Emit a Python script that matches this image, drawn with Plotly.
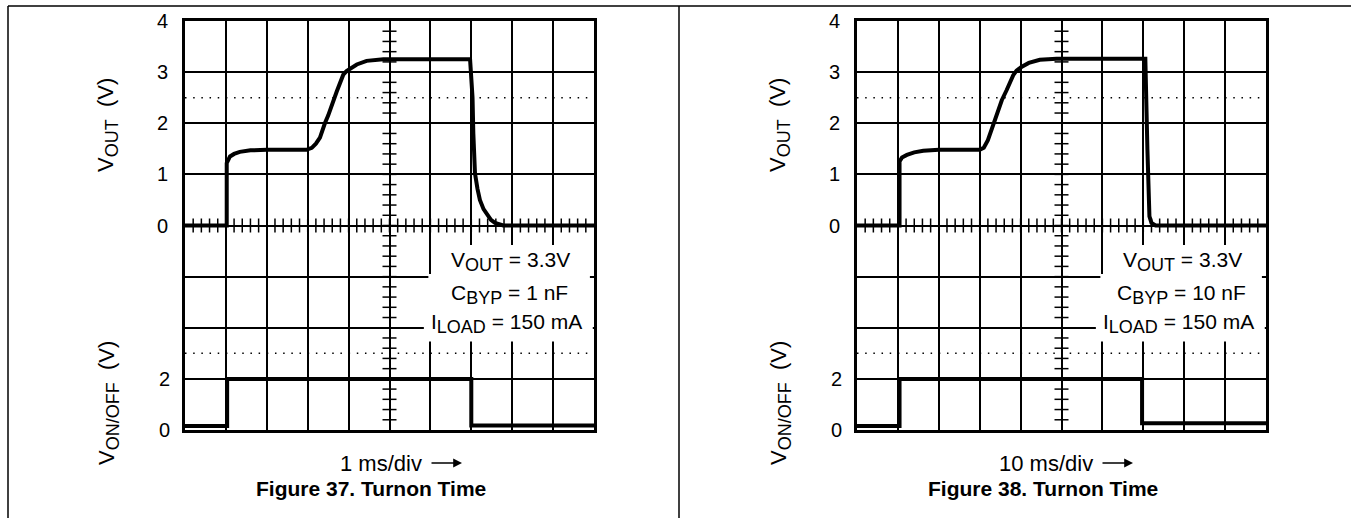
import plotly.graph_objects as go

W, H = 1351, 518
FONT = "Liberation Sans"

# ---------------- data ----------------
# Figure 37 (1 ms/div): time in ms
t_out_37 = [0, 1.02, 1.02, 1.1, 1.2, 1.34, 1.6, 2.0, 2.97, 3.1, 3.2, 3.3, 3.42, 3.5, 3.71,
            3.87, 3.95, 4.05, 4.2, 4.44, 4.85, 6.97, 7.03, 7.05, 7.09, 7.15, 7.21, 7.3,
            7.38, 7.48, 7.58, 7.78, 10]
v_out_37 = [0, 0, 1.22, 1.35, 1.40, 1.44, 1.47, 1.48, 1.48, 1.52, 1.60, 1.72, 2.0, 2.15, 2.62,
            2.95, 3.02, 3.08, 3.15, 3.22, 3.25, 3.25, 2.5, 1.8, 1.02, 0.72, 0.5, 0.32,
            0.21, 0.11, 0.05, 0.0, 0]
t_on_37 = [0, 1.03, 1.03, 7.0, 7.0, 10]
v_on_37 = [0.16, 0.16, 2.0, 2.0, 0.18, 0.18]

# Figure 38 (10 ms/div): time in ms
t_out_38 = [0, 10.4, 10.4, 11.0, 12.2, 14.0, 16.2, 20, 30, 31, 32, 33, 34.1, 35.4, 36.6,
            37.5, 38.2, 39, 40.2, 42, 44.7, 48.8, 70.5, 71.0, 71.5, 72.0, 73, 100]
v_out_38 = [0, 0, 1.25, 1.33, 1.38, 1.43, 1.46, 1.48, 1.48, 1.52, 1.67, 1.9, 2.2, 2.45, 2.65,
            2.83, 2.94, 3.03, 3.1, 3.18, 3.24, 3.26, 3.26, 1.5, 0.18, 0.05, 0.0, 0]
t_on_38 = [0, 10.4, 10.4, 69.7, 69.7, 100]
v_on_38 = [0.16, 0.16, 2.0, 2.0, 0.26, 0.26]

vout_ticks = [0, 1, 2, 3, 4]
vout_ticktext = ["0", "1", "2", "3", "4"]
lower_grid = [-3, -2, -1]
von_ticks = [0, 2]
von_ticktext = ["0", "2"]

panels = [
    dict(t_out=t_out_37, v_out=v_out_37, t_on=t_on_37, v_on=v_on_37, span=10,
         cbyp="1 nF", scale="1 ms/div", title="Figure 37. Turnon Time"),
    dict(t_out=t_out_38, v_out=v_out_38, t_on=t_on_38, v_on=v_on_38, span=100,
         cbyp="10 nF", scale="10 ms/div", title="Figure 38. Turnon Time"),
]

# ---------------- geometry (pixels) ----------------
plot_left = [185, 857]
plot_w = 409
plot_top, plot_bot = 21, 430


def px(x):
    return x / W


def py(y):
    return 1 - y / H


fig = go.Figure()
shapes = []
annotations = []
sub = "<sub><span style='font-size:18px'>%s</span></sub>"

for i, p in enumerate(panels):
    n = i + 1
    xa = "x" if n == 1 else "x2"
    ya_out = "y" if n == 1 else "y3"
    ya_on = "y2" if n == 1 else "y4"
    xkey = "xaxis" if n == 1 else "xaxis2"
    yk_out = "yaxis" if n == 1 else "yaxis3"
    yk_on = "yaxis2" if n == 1 else "yaxis4"
    span = p["span"]
    d = span / 10.0

    dom_x = [px(plot_left[i]), px(plot_left[i] + plot_w)]
    dom_y = [py(plot_bot), py(plot_top)]

    fig.update_layout(**{
        xkey: dict(domain=dom_x, range=[0, span], anchor=ya_out, dtick=d, tick0=0,
                   showticklabels=False, ticks="", showgrid=True, gridcolor="black",
                   gridwidth=1.6, zeroline=False, showline=True, mirror=True,
                   linecolor="black", linewidth=2.6, fixedrange=True, automargin=False),
        yk_out: dict(domain=dom_y, range=[-4, 4], anchor=xa, tickmode="array",
                     tickvals=vout_ticks, ticktext=vout_ticktext, showgrid=True,
                     gridcolor="black", gridwidth=1.6, zeroline=False, showline=True,
                     mirror=True, linecolor="black", linewidth=2.6, ticks="outside",
                     ticklen=10, tickcolor="rgba(0,0,0,0)", automargin=False,
                     minor=dict(tickmode="array", tickvals=lower_grid, showgrid=True,
                                gridcolor="black", gridwidth=1.6, ticks=""),
                     tickfont=dict(family=FONT, size=20, color="black"), fixedrange=True),
        yk_on: dict(range=[0, 16], overlaying=ya_out, anchor=xa, side="left",
                    tickmode="array", tickvals=von_ticks, ticktext=von_ticktext,
                    showgrid=False, zeroline=False, showline=False, ticks="outside",
                    ticklen=10, tickcolor="rgba(0,0,0,0)", automargin=False,
                    tickfont=dict(family=FONT, size=20, color="black"), fixedrange=True),
    })

    # graticule minor ticks on centre axes
    fig.add_trace(go.Scatter(
        x=[5 * d] * 39, y=[-3.8 + 0.2 * k for k in range(39)], xaxis=xa, yaxis=ya_out,
        mode="markers", marker=dict(symbol="line-ew", size=10,
                                    line=dict(width=1.5, color="black")),
        hoverinfo="skip", showlegend=False))
    fig.add_trace(go.Scatter(
        x=[d * 0.2 * k for k in range(1, 50)], y=[0] * 49, xaxis=xa, yaxis=ya_out,
        mode="markers", marker=dict(symbol="line-ns", size=10,
                                    line=dict(width=1.5, color="black")),
        hoverinfo="skip", showlegend=False))

    # waveforms
    fig.add_trace(go.Scatter(x=p["t_on"], y=p["v_on"], xaxis=xa, yaxis=ya_on,
                             mode="lines", line=dict(color="black", width=4),
                             showlegend=False))
    fig.add_trace(go.Scatter(x=p["t_out"], y=p["v_out"], xaxis=xa, yaxis=ya_out,
                             mode="lines", line=dict(color="black", width=4),
                             showlegend=False))

    # dotted reference lines
    for yv in [2.5, -2.5]:
        shapes.append(dict(type="line", xref=xa, yref=ya_out, x0=0, x1=span, y0=yv, y1=yv,
                           line=dict(color="black", width=1.5, dash="1.5px,6.68px"),
                           layer="between"))

    # white masks behind condition text
    for (x0, x1, y0, y1) in [(6.05, 9.85, -1.05, -0.38), (5.95, 9.9, -2.1, -0.95),
                             (5.84, 9.97, -2.27, -1.65)]:
        shapes.append(dict(type="rect", xref=xa, yref=ya_out, x0=x0 * d, x1=x1 * d,
                           y0=y0, y1=y1, fillcolor="white", line=dict(width=0),
                           layer="between"))

    cond = ["V" + sub % "OUT" + " = 3.3V",
            "C" + sub % "BYP" + " = " + p["cbyp"],
            "I" + sub % "LOAD" + " = 150 mA"]
    for txt, xc, yc in zip(cond, [7.95, 7.93, 7.87], [-0.71, -1.34, -1.92]):
        annotations.append(dict(text=txt, xref=xa, yref=ya_out, x=xc * d, y=yc,
                                showarrow=False, xanchor="center", yanchor="middle",
                                font=dict(family=FONT, size=21, color="black")))

    off = plot_left[i] - plot_left[0]
    # axis titles
    annotations.append(dict(text="V" + sub % "OUT" + "  (V)", xref="paper", yref="paper",
                            x=px(108 + off), y=py(125), textangle=-90, showarrow=False,
                            xanchor="center", yanchor="middle",
                            font=dict(family=FONT, size=22, color="black")))
    annotations.append(dict(text="V" + sub % "ON/OFF" + "  (V)", xref="paper", yref="paper",
                            x=px(108 + off), y=py(403), textangle=-90, showarrow=False,
                            xanchor="center", yanchor="middle",
                            font=dict(family=FONT, size=22, color="black")))
    # time scale label + arrow
    text_end = [424, 1095][i]
    arrow_tip = [462, 1133][i]
    annotations.append(dict(text=p["scale"], xref="paper", yref="paper", x=px(text_end),
                            y=py(463), showarrow=False, xanchor="right", yanchor="middle",
                            font=dict(family=FONT, size=22, color="black")))
    annotations.append(dict(text="", xref="paper", yref="paper", x=px(arrow_tip), y=py(463),
                            ax=-32, ay=0, showarrow=True, arrowhead=2, arrowsize=1.1,
                            arrowwidth=1.6, arrowcolor="black", standoff=0, startstandoff=0))
    # figure caption
    annotations.append(dict(text="<b>" + p["title"] + "</b>", xref="paper", yref="paper",
                            x=px(371 + off), y=py(488), showarrow=False, xanchor="center",
                            yanchor="middle", font=dict(family=FONT, size=21, color="black")))

# page frame lines
for (x0, y0, x1, y1) in [(8, 6, W, 6), (8, 6, 8, H), (679, 6, 679, H)]:
    shapes.append(dict(type="line", xref="paper", yref="paper", x0=px(x0), x1=px(x1),
                       y0=py(y0), y1=py(y1), line=dict(color="black", width=1.5)))

fig.update_layout(template="none", width=W, height=H, autosize=False,
                  margin=dict(l=0, r=0, t=0, b=0, pad=0),
                  paper_bgcolor="white", plot_bgcolor="white", showlegend=False,
                  shapes=shapes, annotations=annotations)

fig.write_html("out.html", config={"displayModeBar": False, "responsive": False},
               post_script="document.body.style.margin='0px';"
                           "document.body.style.overflow='hidden';")
